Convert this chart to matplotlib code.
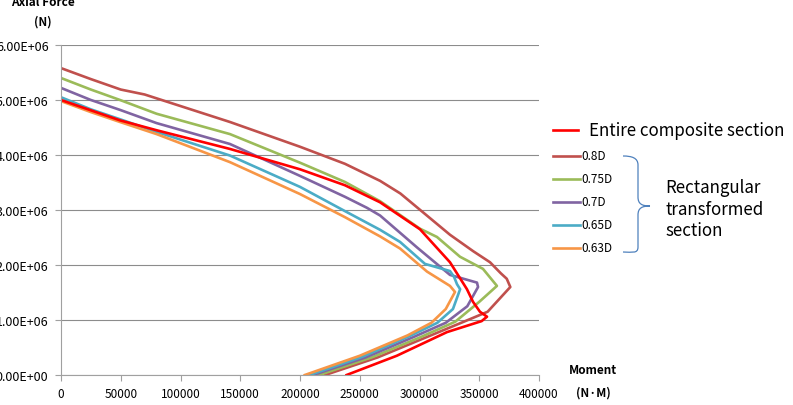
import matplotlib
matplotlib.use("Agg")
import matplotlib.pyplot as plt
from matplotlib.path import Path
from matplotlib.patches import PathPatch
from matplotlib.lines import Line2D

plt.rcParams['font.family'] = ['Noto Sans CJK KR', 'DejaVu Sans']

# moment (N*m) / axial force (N) for each section model
red_M = [0, 49400, 80000, 141400, 200000, 237600, 267000, 300400, 325500, 339700,
         344800, 350600, 356500, 352000, 323000, 281000, 239000]
red_N = [5.00e6, 4.63e6, 4.45e6, 4.11e6, 3.74e6, 3.45e6, 3.14e6, 2.65e6, 2.05e6, 1.56e6,
         1.33e6, 1.15e6, 1.06e6, 0.98e6, 0.78e6, 0.35e6, 0]

d80_M = [0, 25000, 50000, 70000, 141400, 200000, 237600, 267000, 284000, 325500,
         345000, 359000, 368000, 373000, 376000, 357000, 335000, 305000, 265000, 221000]
d80_N = [5.58e6, 5.38e6, 5.19e6, 5.10e6, 4.60e6, 4.15e6, 3.84e6, 3.53e6, 3.30e6, 2.55e6,
         2.25e6, 2.05e6, 1.85e6, 1.75e6, 1.60e6, 1.15e6, 0.95e6, 0.68e6, 0.32e6, 0]

d75_M = [0, 25000, 49400, 80000, 141400, 200000, 237600, 267000, 300400, 314600,
         333900, 353100, 364800, 350000, 330000, 300000, 260000, 216000]
d75_N = [5.40e6, 5.19e6, 5.00e6, 4.75e6, 4.38e6, 3.86e6, 3.51e6, 3.16e6, 2.66e6, 2.51e6,
         2.15e6, 1.93e6, 1.62e6, 1.33e6, 0.97e6, 0.68e6, 0.32e6, 0]

d70_M = [0, 25000, 49400, 80000, 141400, 200000, 237600, 256000, 267000, 297900,
         325500, 348100, 349000, 340000, 322000, 296000, 255000, 211000]
d70_N = [5.22e6, 5.00e6, 4.82e6, 4.58e6, 4.20e6, 3.62e6, 3.24e6, 3.04e6, 2.90e6, 2.32e6,
         1.82e6, 1.68e6, 1.60e6, 1.25e6, 0.95e6, 0.70e6, 0.32e6, 0]

d65_M = [0, 25000, 49400, 80000, 141400, 200000, 237600, 267000, 283700, 304600,
         325500, 329000, 331400, 334000, 328000, 315000, 293000, 252000, 208000]
d65_N = [5.05e6, 4.83e6, 4.65e6, 4.42e6, 3.99e6, 3.42e6, 2.98e6, 2.64e6, 2.42e6, 2.02e6,
         1.89e6, 1.78e6, 1.65e6, 1.56e6, 1.20e6, 0.95e6, 0.72e6, 0.33e6, 0]

d63_M = [0, 25000, 49400, 80000, 141400, 200000, 237600, 267000, 283700, 306300,
         325500, 329700, 322000, 310000, 290000, 250000, 204000]
d63_N = [4.98e6, 4.78e6, 4.60e6, 4.38e6, 3.87e6, 3.29e6, 2.87e6, 2.52e6, 2.30e6, 1.88e6,
         1.62e6, 1.51e6, 1.20e6, 0.95e6, 0.72e6, 0.35e6, 0]

labels = ['0.8D', '0.75D', '0.7D', '0.65D', '0.63D']
colors = ['#C0504D', '#9BBB59', '#8064A2', '#4BACC6', '#F79646']
series = [(d80_M, d80_N), (d75_M, d75_N), (d70_M, d70_N), (d65_M, d65_N), (d63_M, d63_N)]

xticks = [0, 50000, 100000, 150000, 200000, 250000, 300000, 350000, 400000]
yticks = [0, 1e6, 2e6, 3e6, 4e6, 5e6, 6e6]
ylabels = ['0.00E+00', '1.00E+06', '2.00E+06', '3.00E+06', '4.00E+06', '5.00E+06', '6.00E+06']

fig = plt.figure(figsize=(7.93, 4.06), dpi=100)
ax = fig.add_axes([61 / 793, 30 / 406, 478 / 793, 330 / 406])

for (m, n), c in zip(series, colors):
    ax.plot(m, n, color=c, lw=1.9, solid_joinstyle='round')
ax.plot(red_M, red_N, color='#FF0000', lw=1.9, solid_joinstyle='round')

ax.set_xlim(0, 400000)
ax.set_ylim(0, 6e6)
ax.set_xticks(xticks)
ax.set_xticklabels([str(t) for t in xticks], fontsize=8.5)
ax.set_yticks(yticks)
ax.set_yticklabels(ylabels, fontsize=9)
ax.grid(axis='y', color='#8c8c8c', lw=0.8)
ax.set_axisbelow(True)
for s in ['top', 'right']:
    ax.spines[s].set_visible(False)
for s in ['left', 'bottom']:
    ax.spines[s].set_color('#a0a0a0')
ax.tick_params(colors='#a0a0a0', length=4, labelcolor='black')
ax.tick_params(axis='y', pad=5)
ax.tick_params(axis='x', pad=5)

# axis titles
fig.text(43 / 793, 1 - 2 / 406, 'Axial Force', ha='center', va='center', fontsize=8.5, fontweight='bold')
fig.text(43 / 793, 1 - 22 / 406, '(N)', ha='center', va='center', fontsize=8.5, fontweight='bold')
fig.text(593 / 793, 1 - 371 / 406, 'Moment', ha='center', va='center', fontsize=8.5, fontweight='bold')
fig.text(593 / 793, 1 - 393 / 406, '(N·M)', ha='center', va='center', fontsize=8.5, fontweight='bold')

# legend drawn by hand
def fx(px):
    return px / 793
def fy(py):
    return 1 - py / 406

fig.add_artist(Line2D([fx(553), fx(578)], [fy(131), fy(131)], color='#FF0000', lw=1.9))
fig.text(fx(589), fy(131), 'Entire composite section', ha='left', va='center', fontsize=12.2)
for i, (lab, c) in enumerate(zip(labels, colors)):
    yy = 157 + 23 * i
    fig.add_artist(Line2D([fx(553), fx(580)], [fy(yy), fy(yy)], color=c, lw=1.9))
    fig.text(fx(581), fy(yy), lab, ha='left', va='center', fontsize=8.5)

# brace
verts = [(623, 157), (632, 157), (638, 159), (638, 166),
         (638, 198), (638, 205), (642, 207), (650, 207),
         (642, 207), (638, 209), (638, 216),
         (638, 248), (638, 255), (632, 253), (623, 253)]
codes = [Path.MOVETO, Path.CURVE4, Path.CURVE4, Path.CURVE4,
         Path.LINETO, Path.CURVE4, Path.CURVE4, Path.CURVE4,
         Path.CURVE4, Path.CURVE4, Path.CURVE4,
         Path.LINETO, Path.CURVE4, Path.CURVE4, Path.CURVE4]
brace = Path([(fx(x), fy(y)) for x, y in verts], codes)
fig.add_artist(PathPatch(brace, transform=fig.transFigure, fill=False, edgecolor='#4F81BD', lw=0.9))
fig.text(fx(665), fy(210), 'Rectangular\ntransformed\nsection', ha='left', va='center',
         fontsize=12.2, linespacing=1.25)

fig.savefig('out.png', dpi=100)
